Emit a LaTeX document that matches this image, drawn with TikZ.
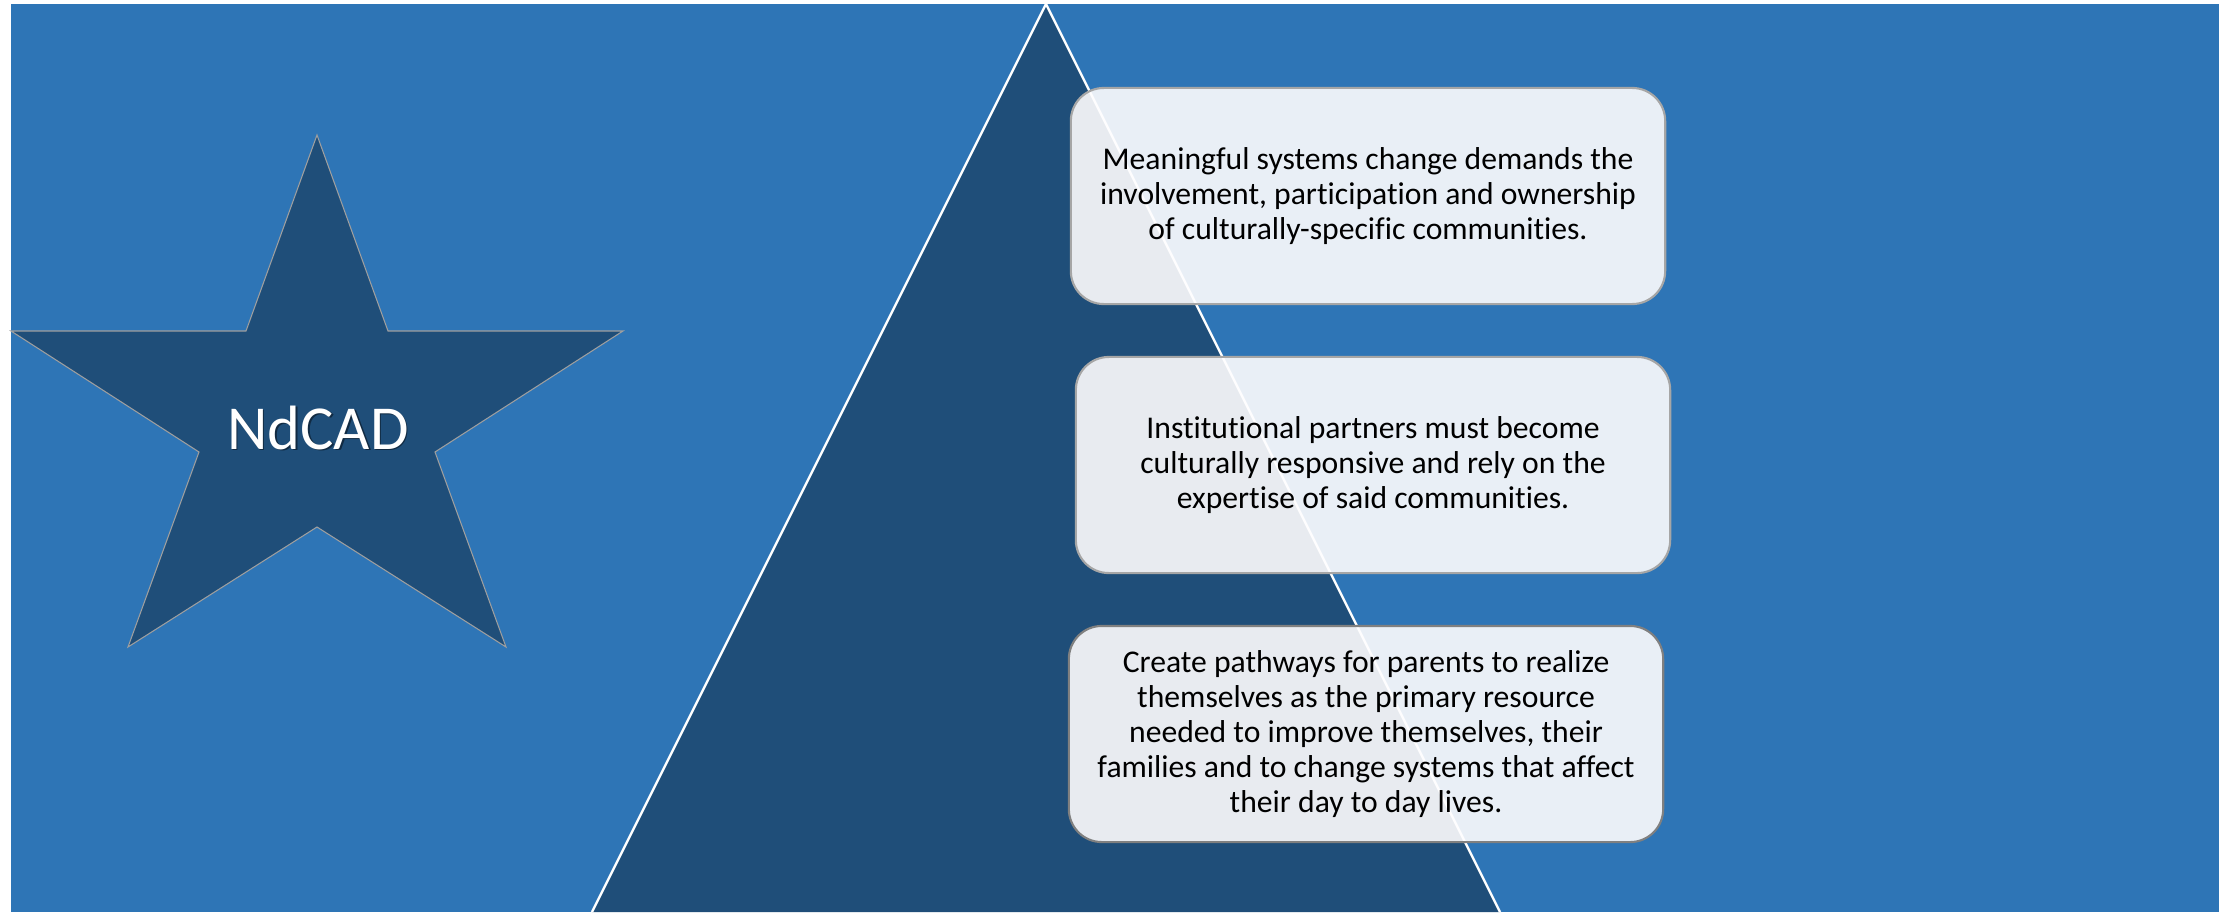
\documentclass[tikz,border=0pt]{standalone}
\usepackage{fontspec}
\setmainfont{Carlito}[Ligatures=NoCommon]
\usetikzlibrary{positioning}
\definecolor{bgblue}{HTML}{2E75B6}
\definecolor{deepblue}{HTML}{1F4E79}
\definecolor{boxfill}{HTML}{FEFDFE}
\tikzstyle{edge} = [draw=white, line width=0.65pt, line join=round]

\begin{document}
\begin{tikzpicture}[
                x=0.01cm, y=-0.01cm,
                idea/.style={
                    draw=gray!70,
                    line width=0.6pt,
                    fill=boxfill,
                    fill opacity=0.9,
                    text opacity=1,
                    rounded corners=0.33cm,
                    minimum width=5.94cm,
                    minimum height=2.16cm,
                    align=center,
                    font=\fontsize{9}{10}\selectfont
                },
                star/.style={
                    draw=gray!75,
                    line width=0.3pt,
                    fill=deepblue
                },
                every node/.style={inner sep=0pt}
            ]

                \useasboundingbox (0,0) rectangle (2231,912);
                \fill[bgblue] (11,4) rectangle (2219,912);

                % the big triangle behind the boxes
                \coordinate (apex) at (1046,4);
                \coordinate (baseL) at (592,912);
                \coordinate (baseR) at (1500,912);
                \fill[deepblue] (apex) -- (baseL) -- (baseR) -- cycle;
                \draw[edge] (baseL) -- (apex) -- (baseR);

                % five-pointed star
                \draw[star] (317,135) -- (388,331) -- (623,331) -- (435,452)
                    -- (506,647) -- (317,527) -- (128,647) -- (199,452)
                    -- (11,331) -- (246,331) -- cycle;
                \node[anchor=base, text=black, opacity=0.45,
                      font=\fontsize{17.8}{20}\selectfont] (labelshadow) at (319.5,450.5) {NdCAD};
                \node[anchor=base, text=white,
                      font=\fontsize{17.8}{20}\selectfont] (label) at (318,449) {NdCAD};

                \node[idea] (p1) at (1368,196) {Meaningful systems change demands the\\involvement, participation and ownership\\of culturally-specific communities.};
                \node[idea] (p2) at (1373,465) {Institutional partners must become\\culturally responsive and rely on the\\expertise of said communities.};
                \node[idea, draw=gray] (p3) at (1366,734) {Create pathways for parents to realize\\themselves as the primary resource\\needed to improve themselves, their\\families and to change systems that affect\\their day to day lives.};

            \end{tikzpicture}
\end{document}
